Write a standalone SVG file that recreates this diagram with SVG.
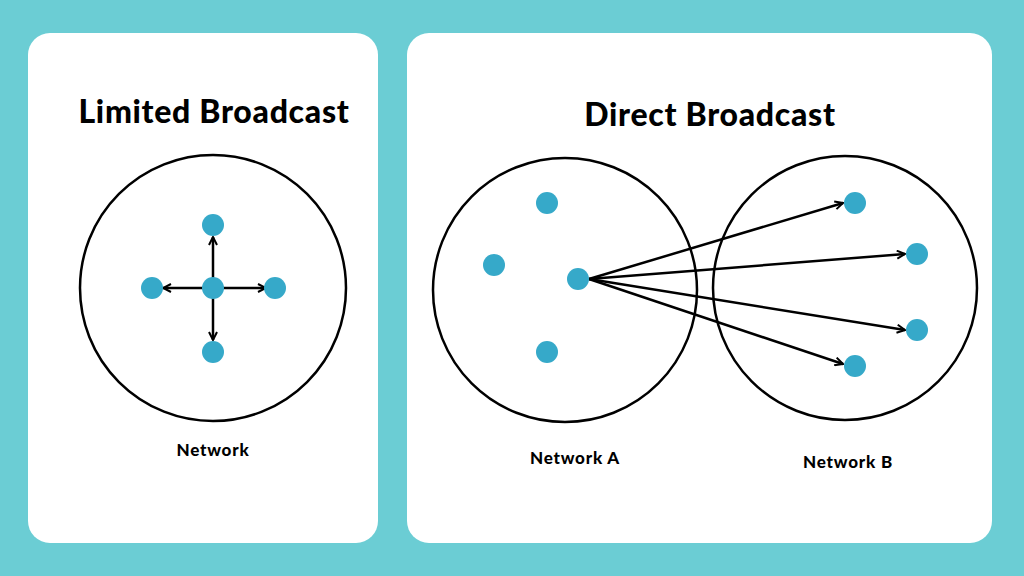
<svg xmlns="http://www.w3.org/2000/svg" width="1024" height="576" viewBox="0 0 1024 576">
<style>
.panel{fill:#fff}
.net{fill:none;stroke:#000;stroke-width:2.5}
.dot{fill:#36a9c9}
.title{font-family:Lato,"Liberation Sans",sans-serif;font-weight:900;font-size:32px;letter-spacing:0.7px;fill:#000;text-anchor:middle}
.lbl{font-family:Lato,"Liberation Sans",sans-serif;font-weight:900;font-size:17px;letter-spacing:0.8px;fill:#000;text-anchor:middle}
.ar{stroke:#000;stroke-width:2.5;fill:none;marker-end:url(#ah)}
</style>
<defs>
<marker id="ah" viewBox="0 0 10 10" refX="9" refY="5" markerWidth="4" markerHeight="4" orient="auto" markerUnits="strokeWidth">
<path d="M1,1 L9,5 L1,9" fill="none" stroke="#000" stroke-width="2"/>
</marker>
</defs>
<rect width="1024" height="576" fill="#6bcdd4"/>
<rect class="panel" x="28" y="33" width="350" height="510" rx="22"/>
<rect class="panel" x="407" y="33" width="585" height="510" rx="22"/>
<text class="title" x="214" y="123">Limited Broadcast</text>
<text class="title" x="710" y="126">Direct Broadcast</text>
<g id="network"><circle class="net" cx="213" cy="288" r="133"/><text class="lbl" x="213" y="456">Network</text></g>
<g id="networkA"><circle class="net" cx="565" cy="290" r="132"/><text class="lbl" x="575" y="464">Network A</text></g>
<g id="networkB"><circle class="net" cx="845" cy="288" r="132"/><text class="lbl" x="848" y="468">Network B</text></g>
<g id="connectors">
<line class="ar" x1="213" y1="288" x2="213" y2="237"/>
<line class="ar" x1="213" y1="288" x2="213" y2="340"/>
<line class="ar" x1="213" y1="288" x2="163" y2="288"/>
<line class="ar" x1="213" y1="288" x2="266" y2="288"/>
<line class="ar" x1="589" y1="279" x2="843" y2="203"/>
<line class="ar" x1="589" y1="279" x2="905" y2="254"/>
<line class="ar" x1="589" y1="279" x2="905" y2="330"/>
<line class="ar" x1="589" y1="279" x2="843" y2="364"/>
</g>
<g id="n1"><circle class="dot" cx="213" cy="288" r="11"/></g>
<g id="n2"><circle class="dot" cx="213" cy="225" r="11"/></g>
<g id="n3"><circle class="dot" cx="213" cy="352" r="11"/></g>
<g id="n4"><circle class="dot" cx="152" cy="288" r="11"/></g>
<g id="n5"><circle class="dot" cx="275" cy="288" r="11"/></g>
<g id="a1"><circle class="dot" cx="547" cy="203" r="11"/></g>
<g id="a2"><circle class="dot" cx="494" cy="265" r="11"/></g>
<g id="a3"><circle class="dot" cx="578" cy="279" r="11"/></g>
<g id="a4"><circle class="dot" cx="547" cy="352" r="11"/></g>
<g id="b1"><circle class="dot" cx="855" cy="203" r="11"/></g>
<g id="b2"><circle class="dot" cx="917" cy="254" r="11"/></g>
<g id="b3"><circle class="dot" cx="917" cy="330" r="11"/></g>
<g id="b4"><circle class="dot" cx="855" cy="366" r="11"/></g>
</svg>
